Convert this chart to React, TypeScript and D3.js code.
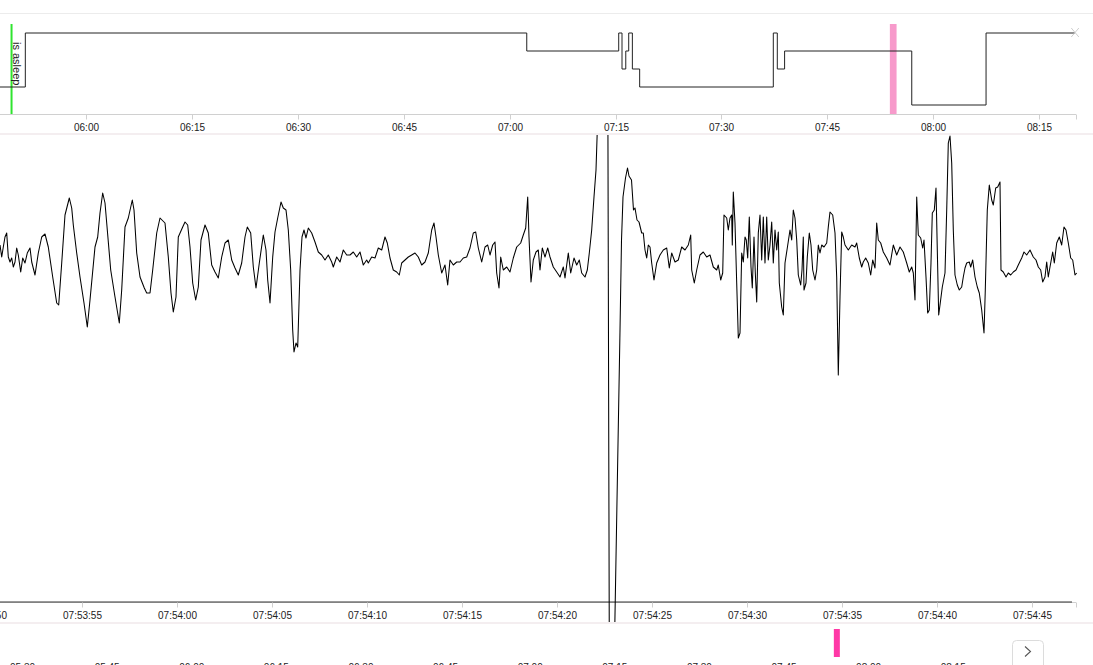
import React from 'react';
import * as d3 from 'd3';

const W = 1093;
const H = 665;
const FONT = "'Liberation Sans', Arial, Helvetica, sans-serif";
const DAY = '2024-01-01';
const at = (hms: string) => new Date(`${DAY}T${hms.length === 5 ? hms + ':00' : hms}`);

// ---- Hypnogram (top) ----
const HYP_DOMAIN = ['05:47:52', '08:20:11'];
const HYP_TICKS = ['06:00', '06:15', '06:30', '06:45', '07:00', '07:15', '07:30', '07:45', '08:00', '08:15'];
const STAGE_START = ['05:47:52', '05:51:27', '07:02:26', '07:15:27', '07:15:55', '07:16:27', '07:16:52', '07:17:23', '07:18:25', '07:37:20', '07:37:54', '07:38:56', '07:56:56', '08:07:27'];
const STAGE_LEVEL = [3, 0, 1, 0, 2, 1, 0, 2, 3, 0, 2, 1, 4, 0];
const STAGE_END = '08:20:03';
const ASLEEP_AT = '05:49:30';
const ASLEEP_LABEL = 'is asleep';
const WINDOW = ['07:53:50', '07:54:47'];

// ---- Overview strip (bottom) ----
const OV_DOMAIN = ['05:26:00', '08:36:46'];
const OV_TICKS = ['05:30', '05:45', '06:00', '06:15', '06:30', '06:45', '07:00', '07:15', '07:30', '07:45', '08:00', '08:15'];

// ---- EEG trace (seconds after 07:53:50, microvolts) ----
const EEG_START = '07:53:50';
const EEG_DOMAIN_S = [0.684, 57.316];
const EEG_TICKS_S = [0, 5, 10, 15, 20, 25, 30, 35, 40, 45, 50, 55];
const EEG_FLOOR = -334;
const EEG_FLAT_END_S = 57.105;

const EEG_SEG_A: [number, number][] = [
  [0.684, 23], [0.774, 11], [0.858, 21], [0.947, 31], [1.037, 35], [1.121, 11], [1.211, 6], [1.3, 10], [1.384, 1], [1.474, 6],
  [1.563, 20], [1.647, 13], [1.774, -4], [1.879, 10], [2.0, 5], [2.121, 15], [2.263, 20], [2.353, 6], [2.526, -7], [2.7, 15],
  [2.879, 31], [3.053, 34], [3.226, 21], [3.458, -9], [3.668, -35], [3.774, -37], [3.932, 5], [4.105, 53], [4.332, 70], [4.458, 60],
  [4.542, 43], [4.721, 15], [4.895, -9], [5.105, -35], [5.279, -59], [5.421, -32], [5.684, 21], [5.826, 31], [5.947, 55], [6.089, 75],
  [6.211, 65], [6.3, 45], [6.511, -2], [6.737, -29], [6.963, -55], [7.089, -22], [7.263, 41], [7.437, 50], [7.647, 68], [7.737, 58],
  [7.879, 15], [8.053, -9], [8.279, -20], [8.405, -25], [8.579, -25], [8.721, -2], [8.932, 35], [9.105, 50], [9.368, 45], [9.542, 11],
  [9.684, -25], [9.805, -44], [9.947, -29], [10.068, 31], [10.3, 41], [10.421, 46], [10.563, 43], [10.684, 21], [10.826, -15], [10.984, -32],
  [11.121, -19], [11.263, 28], [11.474, 43], [11.647, 35], [11.826, 3], [12.0, -4], [12.174, -10], [12.353, 11], [12.526, 25], [12.7, 28],
  [12.879, 8], [13.053, 0], [13.226, -7], [13.405, 5], [13.579, 31], [13.7, 41], [13.879, 35], [14.016, 1], [14.158, -20], [14.332, 5],
  [14.542, 33], [14.684, 18], [14.774, -12], [14.895, -35], [15.037, 11], [15.158, 36], [15.3, 50], [15.474, 66], [15.595, 60], [15.737, 58],
  [15.858, 38], [15.984, -2], [16.089, -62], [16.158, -84], [16.263, -75], [16.353, -79], [16.474, -2], [16.579, 31], [16.684, 38], [16.789, 30],
  [16.911, 40], [17.089, 35], [17.263, 26], [17.437, 16], [17.616, 13], [17.789, 8], [17.963, 13], [18.142, 6], [18.226, 1], [18.405, 11],
  [18.579, 6], [18.753, 18], [18.932, 13],
];

const EEG_SEG_B: [number, number][] = [
  [19.105, 13], [19.279, 16], [19.458, 11], [19.632, 16], [19.805, 3], [19.984, 8], [20.068, 5], [20.247, 11], [20.421, 10], [20.595, 20],
  [20.774, 18], [20.947, 31], [21.068, 25], [21.211, 10], [21.384, -2], [21.563, -4], [21.7, -7], [21.826, 5], [22.0, 8], [22.174, 11],
  [22.353, 13], [22.526, 15], [22.7, 11], [22.879, 3], [23.053, 6], [23.226, 15], [23.405, 38], [23.526, 45], [23.632, 31], [23.753, 13],
  [23.932, -5], [24.105, 3], [24.247, -17], [24.368, 8], [24.542, 3], [24.721, 6], [24.895, 6], [25.068, 10], [25.247, 11], [25.421, 20],
  [25.595, 35], [25.721, 36], [25.858, 20], [26.037, 6], [26.211, 21], [26.353, 23], [26.474, 13], [26.616, 23], [26.737, 26], [26.826, -5],
  [26.947, -20], [27.037, 11], [27.174, -2], [27.353, 1], [27.526, -4], [27.7, 10], [27.879, 21], [28.089, 25], [28.226, 33], [28.353, 40],
  [28.458, 71], [28.526, 31], [28.632, -14], [28.753, 8], [28.895, 16], [29.016, 18], [29.105, -2], [29.226, 20], [29.368, 11], [29.511, 20],
  [29.632, 11], [29.805, 1], [29.984, -4], [30.158, -9], [30.332, 1], [30.421, -10], [30.595, 15], [30.721, -5], [30.895, 10], [31.037, 3],
  [31.174, 8], [31.3, -5], [31.474, -9], [31.595, -2], [31.7, 15], [31.826, 38], [31.947, 71], [32.053, 98], [32.121, 138], [32.211, 328],
  [32.421, 468], [32.658, 298], [32.763, -452], [32.895, -502], [32.974, -432], [33.316, -62], [33.395, 28], [33.474, 71], [33.605, 90], [33.711, 100],
  [33.789, 92], [33.921, 88], [34.026, 58], [34.105, 60], [34.211, 48], [34.316, 46], [34.458, 35], [34.542, 35], [34.632, 18], [34.721, 10],
  [34.805, 23], [34.895, 21], [34.984, 5], [35.105, -12], [35.247, 5], [35.421, 13], [35.595, 18], [35.774, 20], [35.911, 0], [36.037, 15],
  [36.211, 6], [36.384, 8], [36.563, 21], [36.737, 18], [36.911, 23], [37.037, 33], [37.089, -2], [37.226, -15], [37.353, -2], [37.526, 13],
];

const EEG_SEG_C: [number, number][] = [
  [37.7, 16], [37.879, 11], [38.053, 13], [38.226, 1], [38.405, -2], [38.489, 3], [38.616, -12], [38.721, -5], [38.789, 53], [38.932, 50],
  [39.016, 38], [39.105, 50], [39.195, 53], [39.226, 23], [39.279, 76], [39.368, 45], [39.458, -15], [39.542, -70], [39.632, -65], [39.721, 15],
  [39.805, 6], [39.895, 31], [39.963, 28], [40.037, 10], [40.121, 51], [40.211, 1], [40.279, -20], [40.368, 31], [40.437, -5], [40.511, -34],
  [40.595, 35], [40.684, 53], [40.774, 8], [40.858, 51], [40.947, 5], [41.037, 51], [41.121, 8], [41.211, 23], [41.3, 46], [41.384, 5],
  [41.474, 38], [41.563, 18], [41.647, 36], [41.7, -15], [41.826, -39], [41.911, -47], [42.0, 5], [42.121, 20], [42.263, 38], [42.353, 28],
  [42.437, 58], [42.526, 50], [42.616, 28], [42.7, -7], [42.826, -17], [42.895, -2], [42.963, 31], [43.0, -22], [43.105, -15], [43.174, 11],
  [43.279, 35], [43.368, 23], [43.458, -2], [43.579, -12], [43.668, -2], [43.753, 23], [43.842, 15], [43.932, 23], [44.053, 21], [44.195, 25],
  [44.279, 41], [44.368, 56], [44.511, 53], [44.632, 35], [44.721, -9], [44.805, -107], [44.895, -29], [44.984, 36], [45.068, 31], [45.158, 23],
  [45.332, 18], [45.511, 23], [45.684, 21], [45.774, 25], [45.911, 10], [46.037, 1], [46.121, 6], [46.247, 10], [46.384, 5], [46.511, -7],
  [46.616, 8], [46.737, 0], [46.826, 45], [46.911, 28], [47.037, 25], [47.174, 16], [47.353, 10], [47.526, 3], [47.7, 23], [47.879, 13],
  [48.053, 21], [48.226, 16], [48.405, 5], [48.542, -4], [48.668, 1], [48.753, -5], [48.842, -32], [48.932, 71], [49.016, 33], [49.142, 30],
  [49.247, 20], [49.316, 28], [49.421, -9], [49.511, -45], [49.595, -42], [49.684, 5], [49.753, 55], [49.858, 58], [49.947, 80], [50.016, 18],
  [50.089, -47], [50.158, -37], [50.279, -19], [50.421, -5], [50.511, 58], [50.595, 125], [50.684, 132], [50.774, 105], [50.858, 38], [50.947, -7],
  [51.068, -17], [51.174, -22], [51.3, -19], [51.384, -9], [51.474, 0], [51.563, 5], [51.7, 6], [51.774, 1], [51.879, 8], [52.0, -9],
  [52.121, -19], [52.226, -25], [52.353, -42], [52.474, -65], [52.542, -22], [52.647, 58], [52.753, 83], [52.879, 68], [52.963, 63], [53.089, 80],
  [53.195, 81], [53.316, 86], [53.368, -2], [53.489, -4], [53.632, -9], [53.753, -5], [53.879, -7], [54.016, -4], [54.158, -2], [54.279, 3],
  [54.458, 10], [54.579, 16], [54.721, 13], [54.895, 18], [55.068, 11], [55.211, 8], [55.332, 1], [55.458, -2], [55.563, -14], [55.684, -9],
  [55.774, 6], [55.858, -9], [55.947, 1], [56.089, 16], [56.174, 5], [56.3, 25], [56.437, 31], [56.563, 23], [56.684, 41], [56.789, 38],
  [56.911, 25], [57.037, 10], [57.142, 8], [57.263, -7], [57.353, -5],
];

export default function App() {
  // scales
  const hx = d3.scaleTime().domain(HYP_DOMAIN.map(at)).range([0, 1076]);
  const hy = d3.scaleLinear().domain([0, 4]).range([33, 105]);
  const ox = d3.scaleTime().domain(OV_DOMAIN.map(at)).range([0, 1076]);
  const base = at(EEG_START).getTime();
  const sec = (s: number) => new Date(base + s * 1000);
  const ex = d3.scaleTime().domain(EEG_DOMAIN_S.map(sec)).range([0, 1076]);
  const ey = d3.scaleLinear().domain([EEG_FLOOR, 133]).range([602, 135]);

  // hypnogram path
  const hypPts: [Date, number][] = STAGE_START.map((s, i) => [at(s), STAGE_LEVEL[i]]);
  hypPts.push([at(STAGE_END), STAGE_LEVEL[STAGE_LEVEL.length - 1]]);
  const hypLine = d3
    .line<[Date, number]>()
    .x((d) => hx(d[0]))
    .y((d) => hy(d[1]))
    .curve(d3.curveStepAfter);
  const hypD = hypLine(hypPts) || '';

  // EEG path
  const eeg = [...EEG_SEG_A, ...EEG_SEG_B, ...EEG_SEG_C];
  const eegLine = d3
    .line<[number, number]>()
    .x((d) => ex(sec(d[0])))
    .y((d) => ey(d[1]));
  const eegD = eegLine(eeg) || '';

  const fmtHM = d3.timeFormat('%H:%M');
  const fmtHMS = d3.timeFormat('%H:%M:%S');

  const endX = hx(at(STAGE_END));
  const endY = hy(STAGE_LEVEL[STAGE_LEVEL.length - 1]);
  const asleepX = hx(at(ASLEEP_AT));
  const winX0 = hx(at(WINDOW[0]));
  const winX1 = hx(at(WINDOW[1]));
  const ovX0 = ox(at(WINDOW[0]));
  const ovX1 = ox(at(WINDOW[1]));

  return (
    <svg
      width={W}
      height={H}
      style={{ position: 'absolute', left: 0, top: 0, display: 'block', background: '#fff' }}
      fontFamily={FONT}
    >
      <defs>
        <clipPath id="mainClip">
          <rect x={0} y={135} width={W} height={487} />
        </clipPath>
      </defs>

      {/* top border */}
      <line x1={0} x2={W} y1={13.5} y2={13.5} stroke="#ececec" />

      {/* hypnogram */}
      <rect x={winX0} y={24} width={winX1 - winX0} height={90} fill="#f79acb" />
      <line x1={asleepX} x2={asleepX} y1={24} y2={114} stroke="#2fe42f" strokeWidth={2} />
      <path d={hypD} fill="none" stroke="#222" strokeWidth={1} />
      <g stroke="#cfcfcf" strokeWidth={1}>
        <line x1={endX - 3.8} x2={endX + 3.8} y1={endY - 5} y2={endY + 4} />
        <line x1={endX + 3.8} x2={endX - 3.8} y1={endY - 5} y2={endY + 4} />
      </g>
      <text
        transform={`translate(${asleepX + 1},42) rotate(90)`}
        fontSize={11}
        fill="#222"
      >
        {ASLEEP_LABEL}
      </text>

      {/* hypnogram axis */}
      <g>
        <line x1={0} x2={1076} y1={114.5} y2={114.5} stroke="#d0d0d0" />
        <line x1={1076.5} x2={1076.5} y1={114.5} y2={119.5} stroke="#d0d0d0" />
        {HYP_TICKS.map((t) => {
          const x = Math.round(hx(at(t))) + 0.5;
          return (
            <g key={t}>
              <line x1={x} x2={x} y1={114.5} y2={119.5} stroke="#d0d0d0" />
              <text x={x} y={131} fontSize={10} textAnchor="middle" fill="#222">
                {fmtHM(at(t))}
              </text>
            </g>
          );
        })}
      </g>

      {/* separator */}
      <rect x={0} y={133} width={W} height={2} fill="#f4eef0" />

      {/* main EEG */}
      <g>
        <line x1={0} x2={1076} y1={602.5} y2={602.5} stroke="#d0d0d0" />
        <line x1={1076.5} x2={1076.5} y1={602.5} y2={607.5} stroke="#d0d0d0" />
        <line x1={0} x2={ex(sec(EEG_FLAT_END_S))} y1={602} y2={602} stroke="#333" strokeWidth={1} />
        {EEG_TICKS_S.map((s) => {
          const x = Math.round(ex(sec(s))) + 0.5;
          return (
            <g key={s}>
              <line x1={x} x2={x} y1={602.5} y2={607.5} stroke="#d0d0d0" />
              <text x={x} y={618.5} fontSize={10} textAnchor="middle" fill="#222">
                {fmtHMS(sec(s))}
              </text>
            </g>
          );
        })}
      </g>
      <g clipPath="url(#mainClip)">
        <path d={eegD} fill="none" stroke="#000" strokeWidth={1.05} strokeLinejoin="round" />
      </g>

      {/* separator */}
      <rect x={0} y={622} width={W} height={2} fill="#f4eef0" />

      {/* overview strip */}
      <rect x={ovX0} y={629} width={Math.max(ovX1 - ovX0, 6)} height={28} fill="#ff38a6" />
      {OV_TICKS.map((t) => (
        <text key={t} x={ox(at(t))} y={670.5} fontSize={10} textAnchor="middle" fill="#222">
          {fmtHM(at(t))}
        </text>
      ))}
      <rect x={1012.5} y={640.5} width={31} height={32} rx={4} fill="#fff" stroke="#dcdcdc" />
      <path d="M1025,646.5 L1030.5,651.5 L1025,656.5" fill="none" stroke="#555" strokeWidth={1.1} />
    </svg>
  );
}
